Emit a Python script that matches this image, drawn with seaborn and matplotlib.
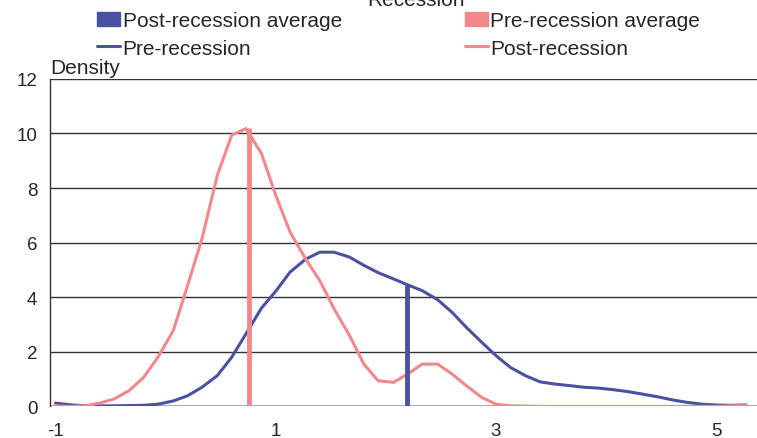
import matplotlib
matplotlib.use('Agg')
import matplotlib.pyplot as plt
import seaborn as sns
import pandas as pd
import numpy as np
from matplotlib.patches import Patch
from matplotlib.lines import Line2D

# x grid (category positions, step 2/15)
x_vals = [-1.0, -0.87, -0.73, -0.6, -0.47, -0.33, -0.2, -0.07, 0.07, 0.2,
          0.33, 0.47, 0.6, 0.73, 0.87, 1.0, 1.13, 1.27, 1.4, 1.53,
          1.67, 1.8, 1.93, 2.07, 2.2, 2.33, 2.47, 2.6, 2.73, 2.87,
          3.0, 3.13, 3.27, 3.4, 3.53, 3.67, 3.8, 3.93, 4.07, 4.2,
          4.33, 4.47, 4.6, 4.73, 4.87, 5.0, 5.13, 5.27]

pre_recession = [0.12, 0.06, 0.02, 0.02, 0.02, 0.03, 0.04, 0.08, 0.2, 0.39,
                 0.7, 1.13, 1.8, 2.66, 3.6, 4.22, 4.92, 5.39, 5.65, 5.65,
                 5.47, 5.17, 4.9, 4.67, 4.45, 4.24, 3.91, 3.45, 2.9, 2.35,
                 1.86, 1.43, 1.12, 0.9, 0.82, 0.76, 0.7, 0.67, 0.61, 0.54,
                 0.45, 0.35, 0.24, 0.15, 0.08, 0.05, 0.04, 0.05]

post_recession = [0.02, 0.0, 0.02, 0.12, 0.27, 0.58, 1.06, 1.8, 2.78, 4.43,
                  6.14, 8.47, 9.94, 10.18, 9.27, 7.74, 6.39, 5.41, 4.61, 3.57,
                  2.6, 1.55, 0.94, 0.88, 1.19, 1.55, 1.55, 1.19, 0.76, 0.33,
                  0.08, 0.02, 0.01, 0.0, 0.0, 0.0, 0.0, 0.0, 0.0, 0.0,
                  0.0, 0.0, 0.0, 0.0, 0.0, 0.0, 0.02, 0.03]

# averages: position and height of the drop lines
pre_avg_x, pre_avg_h = 0.76, 10.2
post_avg_x, post_avg_h = 2.19, 4.45

blue = '#4A51A3'
pink = '#F2878C'

df = pd.DataFrame({'x': x_vals, 'Pre-recession': pre_recession,
                   'Post-recession': post_recession})

sns.set_style('white')
plt.rcParams['font.family'] = ['Liberation Sans', 'DejaVu Sans']
fs = 15
fs_tick = 13.5

fig, ax = plt.subplots(figsize=(7.57, 4.39), dpi=100)
fig.subplots_adjust(left=0.066, right=1.0, top=0.818, bottom=0.072)

for y in [2, 4, 6, 8, 10, 12]:
    ax.axhline(y, color='#333333', lw=1.0, zorder=0)
ax.axhline(0, color='#999999', lw=1.2, zorder=0)

sns.lineplot(data=df, x='x', y='Pre-recession', color=blue, lw=2.2, ax=ax)
sns.lineplot(data=df, x='x', y='Post-recession', color=pink, lw=2.2, ax=ax)

ax.vlines(pre_avg_x, 0, pre_avg_h, color=pink, lw=3.5, zorder=3)
ax.vlines(post_avg_x, 0, post_avg_h, color=blue, lw=3.5, zorder=3)

ax.set_xlim(-1.05, 5.37)
ax.set_ylim(0, 12)
ax.set_xticks([-1, 1, 3, 5])
ax.set_xticklabels(['-1', '1', '3', '5'])
ax.set_yticks([0, 2, 4, 6, 8, 10, 12])
ax.tick_params(axis='y', length=0, labelsize=fs_tick, pad=9)
ax.tick_params(axis='x', length=0, labelsize=fs_tick, pad=11)
ax.set_xlabel('')
ax.set_ylabel('')
for s in ['top', 'right', 'bottom']:
    ax.spines[s].set_visible(False)
ax.spines['left'].set_color('#333333')
ax.spines['left'].set_linewidth(1.0)

ax.text(0, 1.005, 'Density', transform=ax.transAxes, fontsize=fs,
        ha='left', va='bottom')

# row-major order for the two-column legend
handles = [Patch(color=blue), Line2D([], [], color=blue, lw=2.2),
           Patch(color=pink), Line2D([], [], color=pink, lw=2.2)]
labels = ['Post-recession average', 'Pre-recession',
          'Pre-recession average', 'Post-recession']
fig.legend(handles, labels, ncol=2, loc='upper left',
           bbox_to_anchor=(0.109, 1.005), frameon=False, fontsize=fs,
           handlelength=1.1, handleheight=0.7, handletextpad=0.12,
           columnspacing=5.9, labelspacing=0.4, borderaxespad=0.3)

fig.text(0.55, 1.0, 'Recession', ha='center', va='center', fontsize=fs)

fig.savefig('out.png', dpi=100)
